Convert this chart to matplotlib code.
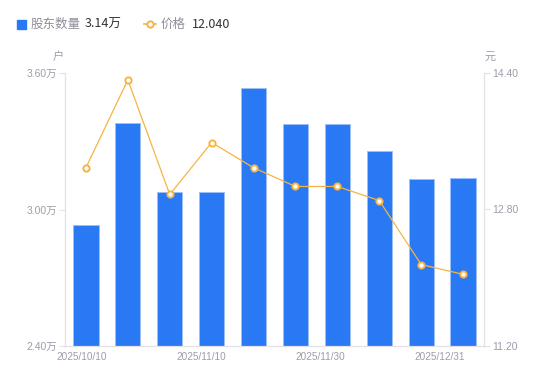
import numpy as np
import matplotlib.pyplot as plt
from matplotlib.lines import Line2D

plt.rcParams['font.family'] = ['Noto Sans CJK SC', 'DejaVu Sans']

# 数据
holders = [2.93, 3.382, 3.079, 3.075, 3.536, 3.378, 3.378, 3.259, 3.136, 3.14]  # 万户
price = [13.29, 14.32, 12.976, 13.585, 13.29, 13.07, 13.07, 12.905, 12.155, 12.04]  # 元
tick_labels = ["2025/10/10", "2025/11/10", "2025/11/30", "2025/12/31"]

bar_color = "#2979f5"
line_color = "#f6b444"
txt_gray = "#9c9cad"
axis_gray = "#e2e2e6"
tick_font = ['Liberation Sans', 'Noto Sans CJK SC']

fig = plt.figure(figsize=(5.5, 3.81), dpi=100)
ax = fig.add_axes([65 / 550, 1 - 346 / 381, 419 / 550, 273 / 381])
ax2 = ax.twinx()

x = np.arange(len(holders))
ax.bar(x, holders, width=0.6, color=bar_color, edgecolor="#9cc0f9", linewidth=0.7, zorder=2)
ax.set_ylim(2.40, 3.60)
ax.set_xlim(-0.5, len(holders) - 0.5)
ax.set_yticks([2.40, 3.00, 3.60])
ax.set_yticklabels(["2.40万", "3.00万", "3.60万"], family=tick_font, fontsize=7.5)

ax2.plot(x, price, color=line_color, lw=0.9, marker="o", ms=4.5, mfc="white",
         mec=line_color, mew=1.4, zorder=3)
ax2.set_ylim(11.20, 14.40)
ax2.set_yticks([11.20, 12.80, 14.40])
ax2.set_yticklabels(["11.20", "12.80", "14.40"], family=tick_font, fontsize=7.5)

# x 轴标签（均匀分布）
ax.set_xticks(np.linspace(-0.1, 8.45, len(tick_labels)))
ax.set_xticklabels(tick_labels, family=tick_font, fontsize=7.2)

for a in (ax, ax2):
    a.spines["top"].set_visible(False)
    for s in ("left", "right", "bottom"):
        a.spines[s].set_color(axis_gray)
        a.spines[s].set_linewidth(0.8)
    a.tick_params(axis="y", colors=axis_gray, length=4, width=0.8, pad=2)
    a.tick_params(axis="y", labelcolor=txt_gray)
ax.tick_params(axis="x", length=0, labelcolor=txt_gray, pad=4)
ax.set_zorder(ax2.get_zorder() - 1)
ax2.patch.set_visible(False)

# 单位
fig.text(58 / 550, 1 - 57 / 381, "户", ha="center", va="center", fontsize=8, color=txt_gray)
fig.text(490 / 550, 1 - 57 / 381, "元", ha="center", va="center", fontsize=8, color=txt_gray)

# 图例
ly = 1 - 24 / 381
fig.patches.append(plt.Rectangle((17 / 550, ly - 4.5 / 381), 9 / 550, 9 / 381,
                                 transform=fig.transFigure, color=bar_color))
fig.text(31 / 550, ly, "股东数量", va="center", fontsize=9, color="#8e8e9c")
fig.text(85 / 550, ly, "3.14万", va="center", fontsize=9, color="#333333")
fig.lines.append(Line2D([144 / 550, 156 / 550], [ly, ly], transform=fig.transFigure,
                        color=line_color, lw=1.2))
fig.lines.append(Line2D([150 / 550], [ly], transform=fig.transFigure, marker="o", ms=4.5,
                        mfc="white", mec=line_color, mew=1.4, lw=0))
fig.text(161 / 550, ly, "价格", va="center", fontsize=9, color="#8e8e9c")
fig.text(192 / 550, ly, "12.040", va="center", fontsize=9, color="#333333")

fig.savefig("out.png", dpi=100)
